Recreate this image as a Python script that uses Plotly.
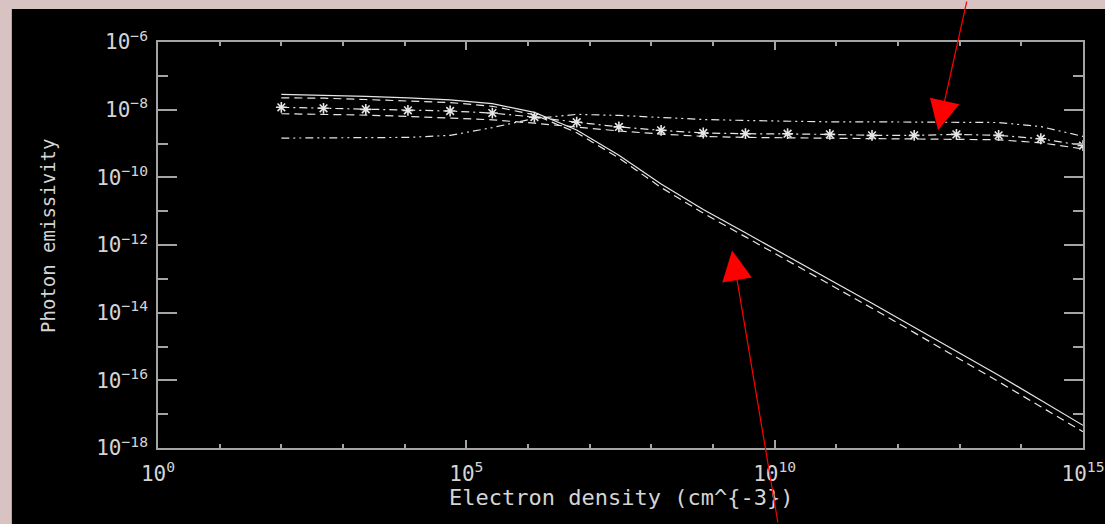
import plotly.graph_objects as go
import numpy as np

# Electron density grid (cm^-3)
density = [1.00e2, 4.83e2, 2.34e3, 1.13e4, 5.46e4, 2.64e5, 1.27e6, 6.16e6, 2.98e7, 1.44e8,
           6.95e8, 3.36e9, 1.62e10, 7.85e10, 3.79e11, 1.83e12, 8.86e12, 4.28e13, 2.07e14, 1.00e15]

# log10 photon emissivity
log_solid = [-7.55, -7.57, -7.61, -7.65, -7.71, -7.82, -8.08, -8.60, -9.35, -10.20,
             -10.95, -11.64, -12.33, -13.02, -13.72, -14.43, -15.14, -15.85, -16.59, -17.33]
log_dash_hi = [-7.65, -7.66, -7.70, -7.74, -7.79, -7.90, -8.15, -8.68, -9.43, -10.30,
               -11.06, -11.76, -12.46, -13.16, -13.87, -14.59, -15.31, -16.04, -16.78, -17.52]
log_star = [-7.93, -7.96, -7.99, -8.02, -8.04, -8.10, -8.22, -8.37, -8.51, -8.61,
            -8.69, -8.71, -8.71, -8.73, -8.76, -8.76, -8.73, -8.76, -8.86, -9.06]
log_dash_lo = [-8.12, -8.13, -8.16, -8.20, -8.24, -8.30, -8.40, -8.52, -8.63, -8.72,
               -8.79, -8.82, -8.83, -8.85, -8.87, -8.88, -8.87, -8.89, -8.98, -9.16]
log_ddd = [-8.84, -8.84, -8.84, -8.82, -8.76, -8.53, -8.26, -8.14, -8.17, -8.23,
           -8.29, -8.32, -8.35, -8.36, -8.36, -8.36, -8.37, -8.38, -8.50, -8.79]

x_tickvals = [1e0, 1e5, 1e10, 1e15]
x_ticktext = ["10<sup>0</sup>", "10<sup>5</sup>", "10<sup>10</sup>", "10<sup>15</sup>"]
y_tickvals = [1e-18, 1e-16, 1e-14, 1e-12, 1e-10, 1e-8, 1e-6]
y_ticktext = ["10<sup>\u221218</sup>", "10<sup>\u221216</sup>", "10<sup>\u221214</sup>",
              "10<sup>\u221212</sup>", "10<sup>\u221210</sup>", "10<sup>\u22128</sup>",
              "10<sup>\u22126</sup>"]

FONT = "DejaVu Sans Mono"
LINE_COL = "#e6e6e6"
AXIS_COL = "#a4a4a4"
TEXT_COL = "#d4d4d4"

fig = go.Figure()

def add(logy, dash, marker=False):
    fig.add_trace(go.Scatter(
        x=density, y=np.power(10.0, logy),
        mode="lines+markers" if marker else "lines",
        line=dict(color=LINE_COL, width=1.2, dash=dash),
        marker=dict(symbol="asterisk-open", size=9, line=dict(color="#ffffff", width=1.6)) if marker else None,
        showlegend=False, hoverinfo="skip"))

add(log_ddd, "8px,4px,2px,4px,2px,4px")
add(log_dash_lo, "8px,5px")
add(log_star, "8px,4px,2px,4px", marker=True)
add(log_dash_hi, "8px,5px")
add(log_solid, "solid")

common = dict(showgrid=False, zeroline=False, showline=True, linecolor=AXIS_COL,
              linewidth=1.5, mirror=True, ticks="inside", tickcolor=AXIS_COL,
              tickwidth=1.5, automargin=False,
              tickfont=dict(family=FONT, size=21, color=TEXT_COL))

fig.update_xaxes(type="log", range=[0, 15], tickmode="array", tickvals=x_tickvals,
                 ticktext=x_ticktext, ticklen=8, ticklabelstandoff=6,
                 minor=dict(tickmode="linear", tick0=0, dtick=1, ticks="inside",
                            ticklen=4, tickcolor=AXIS_COL, tickwidth=1.5),
                 **common)
fig.update_yaxes(type="log", range=[-18, -6], tickmode="array", tickvals=y_tickvals,
                 ticktext=y_ticktext, ticklen=19, ticklabelstandoff=4,
                 minor=dict(tickmode="linear", tick0=0, dtick=1, ticks="inside",
                            ticklen=10, tickcolor=AXIS_COL, tickwidth=1.5),
                 **common)

# mirrored tick sets on top and right (IDL-style box ticks)
mirror_common = dict(showgrid=False, zeroline=False, showline=False, ticks="inside",
                     tickcolor=AXIS_COL, tickwidth=1.5, showticklabels=False,
                     automargin=False)
fig.update_layout(
    xaxis2=dict(type="log", range=[0, 15], overlaying="x", side="top", anchor="y",
                tickmode="array", tickvals=x_tickvals, ticklen=8,
                minor=dict(tickmode="linear", tick0=0, dtick=1, ticks="inside",
                           ticklen=4, tickcolor=AXIS_COL, tickwidth=1.5),
                **mirror_common),
    yaxis2=dict(type="log", range=[-18, -6], overlaying="y", side="right", anchor="x",
                tickmode="array", tickvals=y_tickvals, ticklen=19,
                minor=dict(tickmode="linear", tick0=0, dtick=1, ticks="inside",
                           ticklen=10, tickcolor=AXIS_COL, tickwidth=1.5),
                **mirror_common),
)
# invisible anchor trace so the mirrored axes are drawn
fig.add_trace(go.Scatter(x=[density[0]], y=[10.0 ** log_solid[0]], xaxis="x2", yaxis="y2",
                         mode="markers", marker=dict(opacity=0), showlegend=False,
                         hoverinfo="skip"))

annotations = [
    dict(xref="paper", yref="paper", x=0.5005, y=-0.123, text="Electron density (cm^{-3})",
         showarrow=False, font=dict(family=FONT, size=22, color=TEXT_COL),
         xanchor="center", yanchor="middle"),
    dict(xref="paper", yref="paper", x=-0.119, y=0.522, text="Photon emissivity",
         showarrow=False, textangle=-90, font=dict(family=FONT, size=19, color=TEXT_COL),
         xanchor="center", yanchor="middle"),
    dict(x=12.65, y=-8.61, xref="x", yref="y", text="", showarrow=True,
         arrowhead=2, arrowsize=5, arrowwidth=1.2, arrowcolor="#ff0000",
         ax=29, ay=-140, standoff=0),
    dict(x=9.31, y=-12.16, xref="x", yref="y", text="", showarrow=True,
         arrowhead=2, arrowsize=5, arrowwidth=1.2, arrowcolor="#ff0000",
         ax=46, ay=290, standoff=0),
]

fig.update_layout(
    width=1105, height=524,
    margin=dict(l=158, r=22, t=42, b=76),
    paper_bgcolor="#d9c3c2",
    plot_bgcolor="#000000",
    annotations=annotations,
    shapes=[dict(type="rect", xref="paper", yref="paper", x0=-0.158, x1=1.05,
                 y0=-0.3, y1=1.081, fillcolor="#000000", line=dict(width=0), layer="below")],
)

fig.write_html("out.html")
